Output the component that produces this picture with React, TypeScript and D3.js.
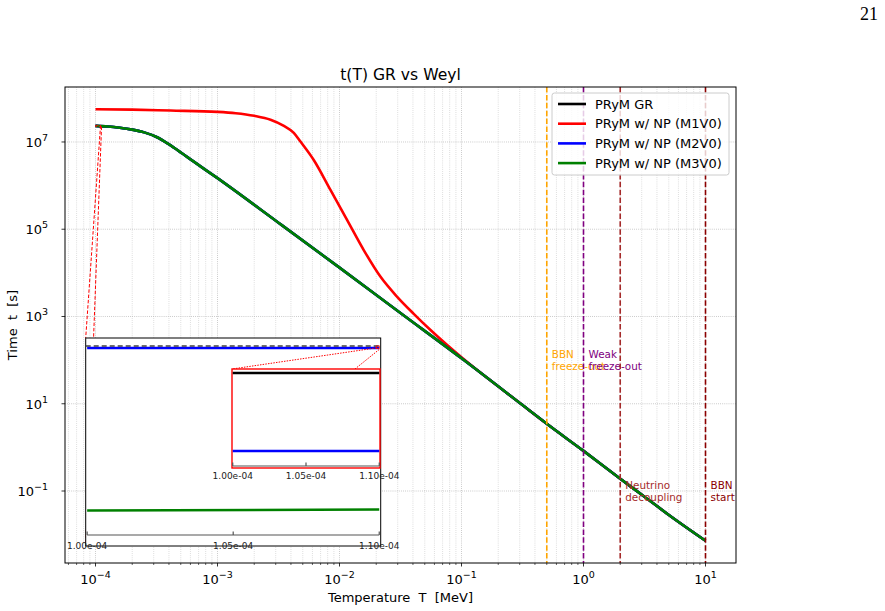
import React from "react";
import * as d3 from "d3";

// main curves (T in MeV, t in s)
const TEMP_GR = [1e-4, 1.26e-4, 1.58e-4, 2.0e-4, 2.51e-4, 3.16e-4, 3.98e-4, 5.01e-4, 6.31e-4, 1e-3, 3.16e-3, 0.01, 0.0316, 0.1, 0.316, 0.5, 1, 2, 3.16, 5.01, 10];
const TIME_GR = [2.34e7, 2.26e7, 2.12e7, 1.92e7, 1.66e7, 1.3e7, 8.9e6, 5.75e6, 3.63e6, 1.48e6, 1.41e5, 1.32e4, 1.2e3, 110, 9.33, 3.47, 0.832, 0.191, 0.0741, 0.0282, 0.00724];

const TEMP_M1 = [1e-4, 2e-4, 4.12e-4, 1e-3, 1.41e-3, 2e-3, 2.72e-3, 3.5e-3, 4.22e-3, 4.75e-3, 6.15e-3, 8.43e-3, 0.01156, 0.0158, 0.0217, 0.0297, 0.0406, 0.0557, 0.0767, 0.1, 0.316, 0.5, 1, 2, 3.16, 5.01, 10];
const TIME_M1 = [5.62e7, 5.5e7, 5.25e7, 4.9e7, 4.57e7, 3.98e7, 3.24e7, 2.34e7, 1.62e7, 1.05e7, 3.86e6, 7.94e5, 1.62e5, 3.33e4, 8.1e3, 2.82e3, 1.15e3, 490, 219, 116, 9.33, 3.47, 0.832, 0.191, 0.0741, 0.0282, 0.00724];

const SERIES_NAMES = ["PRyM GR", "PRyM w/ NP (M1V0)", "PRyM w/ NP (M2V0)", "PRyM w/ NP (M3V0)"];
const SERIES_COLORS = ["#000000", "#ff0000", "#0000ff", "#008000"];

// vertical event markers
const MARKER_T = [0.5, 1, 2, 10];
const MARKER_COLORS = ["#ffa500", "#800080", "#a52a2a", "#8b0000"];
const MARKER_LABELS = [["BBN", "freeze-out"], ["Weak", "freeze-out"], ["Neutrino", "decoupling"], ["BBN", "start"]];
const MARKER_TEXT_t = [100, 100, 0.1, 0.1];

const X_TICKS = [1e-4, 1e-3, 1e-2, 1e-1, 1, 10];
const Y_TICKS = [1e-1, 1e1, 1e3, 1e5, 1e7];

// inset (relative offsets near T = 1e-4)
const INSET_T = [1.0e-4, 1.1e-4];
const INSET_GR = [0, 0];
const INSET_M2 = [-0.0095, -0.0095];
const INSET_M3 = [-0.78, -0.775];
const INSET_TICKS = [1.0e-4, 1.05e-4, 1.1e-4];
const ZOOM_t = [2.25e7, 2.4e7];

const FONT = "DejaVu Sans, sans-serif";

function pow10(v: number) {
  const e = Math.round(Math.log10(v));
  return (
    <>
      <tspan>10</tspan>
      <tspan dy={-6} fontSize={9.5}>{e < 0 ? "\u2212" + Math.abs(e) : String(e)}</tspan>
    </>
  );
}

export default function App() {
  const W = 885, H = 611;
  const m = { left: 65, right: 736, top: 87, bottom: 563 };

  const x = d3.scaleLog().domain([Math.pow(10, -4.25), Math.pow(10, 1.25)]).range([m.left, m.right]);
  const y = d3.scaleLog().domain([Math.pow(10, -2.65), Math.pow(10, 8.26)]).range([m.bottom, m.top]);

  const line = d3.line<[number, number]>().x(d => x(d[0])).y(d => y(d[1])).curve(d3.curveMonotoneX);
  const gr = TEMP_GR.map((T, i) => [T, TIME_GR[i]] as [number, number]);
  const m1 = TEMP_M1.map((T, i) => [T, TIME_M1[i]] as [number, number]);

  // minor ticks
  const minor: number[] = [];
  for (let e = -5; e <= 1; e++) for (let k = 2; k <= 9; k++) {
    const v = k * Math.pow(10, e);
    if (v >= x.domain()[0] && v <= x.domain()[1]) minor.push(v);
  }

  // inset geometry
  const in1 = { l: 85.7, r: 380.7, t: 338, b: 546 };
  const in2 = { l: 232, r: 380, t: 369, b: 468 };
  const ix1 = d3.scaleLinear().domain([0.9995e-4, 1.1005e-4]).range([in1.l, in1.r]);
  const iy1 = d3.scaleLinear().domain([-0.948, 0.038]).range([in1.b, in1.t]);
  const ix2 = d3.scaleLinear().domain([0.9995e-4, 1.1005e-4]).range([in2.l, in2.r]);
  const iy2 = d3.scaleLinear().domain([-0.01157, 0.000487]).range([in2.b, in2.t]);
  const seg = (sx: any, sy: any, ys: number[]) => ({ x1: sx(INSET_T[0]), y1: sy(ys[0]), x2: sx(INSET_T[1]), y2: sy(ys[1]) });

  const zx = x(INSET_T[1]);
  const zTop = y(ZOOM_t[1]);
  const zBot = y(ZOOM_t[0]);
  const rx = ix1(1.099e-4);
  const rTop = iy1(0.000487);
  const rBot = iy1(-0.01157);

  return (
    <svg width={W} height={H} style={{ position: "absolute", left: 0, top: 0, background: "#fff" }} fontFamily={FONT}>
      <text x={878} y={20} textAnchor="end" fontFamily="Liberation Serif, DejaVu Serif, serif" fontSize={18}>21</text>

      {/* grid */}
      {minor.map(v => (
        <line key={"gm" + v} x1={x(v)} x2={x(v)} y1={m.top} y2={m.bottom} stroke="#cccccc" strokeWidth={0.8} strokeDasharray="0.8,1.3" />
      ))}
      {X_TICKS.map(v => (
        <line key={"gx" + v} x1={x(v)} x2={x(v)} y1={m.top} y2={m.bottom} stroke="#b0b0b0" strokeWidth={0.8} strokeDasharray="0.8,1.3" />
      ))}
      {Y_TICKS.map(v => (
        <line key={"gy" + v} x1={m.left} x2={m.right} y1={y(v)} y2={y(v)} stroke="#b0b0b0" strokeWidth={0.8} strokeDasharray="0.8,1.3" />
      ))}

      {/* curves */}
      <path d={line(m1) || ""} fill="none" stroke={SERIES_COLORS[1]} strokeWidth={2.6} />
      <path d={line(gr) || ""} fill="none" stroke={SERIES_COLORS[0]} strokeWidth={2.6} />
      <path d={line(gr) || ""} fill="none" stroke={SERIES_COLORS[2]} strokeWidth={2.6} />
      <path d={line(gr) || ""} fill="none" stroke={SERIES_COLORS[3]} strokeWidth={2.6} />

      {/* event markers */}
      {MARKER_T.map((T, i) => (
        <g key={"mk" + T}>
          <line x1={x(T)} x2={x(T)} y1={m.top} y2={m.bottom} stroke={MARKER_COLORS[i]} strokeWidth={1.6} strokeDasharray="5.5,2.4" />
          <text x={x(T * 1.1)} y={y(MARKER_TEXT_t[i])} fill={MARKER_COLORS[i]} fontSize={10.4}>
            <tspan x={x(T * 1.1)} dy={-2.5}>{MARKER_LABELS[i][0]}</tspan>
            <tspan x={x(T * 1.1)} dy={12}>{MARKER_LABELS[i][1]}</tspan>
          </text>
        </g>
      ))}

      {/* inset connectors (main) */}
      <rect x={x(INSET_T[0])} y={zTop} width={zx - x(INSET_T[0])} height={zBot - zTop} fill="none" stroke="#ff0000" strokeWidth={0.8} strokeDasharray="3,2" />
      <line x1={zx} y1={zTop} x2={in1.l} y2={in1.t} stroke="#ff0000" strokeWidth={1} strokeDasharray="3.5,1.8" />
      <line x1={zx + 1} y1={zBot} x2={in1.l} y2={in1.b} stroke="#ff0000" strokeWidth={1} strokeDasharray="3.5,1.8" />

      {/* inset 1 */}
      <rect x={in1.l} y={in1.t} width={in1.r - in1.l} height={in1.b - in1.t} fill="#fff" stroke="#000" strokeWidth={1} />
      <line {...seg(ix1, iy1, INSET_M2)} stroke={SERIES_COLORS[2]} strokeWidth={2.6} />
      <line x1={in1.l} x2={in1.r} y1={iy1(INSET_GR[0])} y2={iy1(INSET_GR[1])} stroke="#404040" strokeWidth={1.5} strokeDasharray="5,3" />
      <line {...seg(ix1, iy1, INSET_M3)} stroke={SERIES_COLORS[3]} strokeWidth={2.6} />
      <line x1={ix1(INSET_TICKS[0])} x2={ix1(INSET_TICKS[2])} y1={535} y2={535} stroke="#555" strokeWidth={1.2} />
      {INSET_TICKS.map(v => (
        <g key={"it1" + v}>
          <line x1={ix1(v)} x2={ix1(v)} y1={531.5} y2={535} stroke="#555" strokeWidth={1.2} />
          <text x={ix1(v)} y={548.5} textAnchor="middle" fontSize={9} fill="#222">{v.toExponential(2).replace("e-", "e-0")}</text>
        </g>
      ))}

      {/* inset 1 connectors to inset 2 */}
      <rect x={rx} y={rTop} width={ix1(INSET_T[1]) - rx} height={rBot - rTop} fill="none" stroke="#ff0000" strokeWidth={0.8} />
      <line x1={rx} y1={rTop + 2} x2={in2.l} y2={in2.t} stroke="#ff0000" strokeWidth={1} strokeDasharray="1.5,1.2" />
      <line x1={ix1(INSET_T[1])} y1={rBot + 1} x2={in2.l} y2={in2.b} stroke="#ff0000" strokeWidth={1} strokeDasharray="1.5,1.2" />

      {/* inset 2 */}
      <rect x={in2.l} y={in2.t} width={in2.r - in2.l} height={in2.b - in2.t} fill="#fff" stroke="#ff0000" strokeWidth={1.4} />
      <line x1={in2.l + 2} x2={in2.r - 2} y1={iy2(INSET_GR[0])} y2={iy2(INSET_GR[1])} stroke="#000" strokeWidth={1.5} strokeDasharray="3,3" />
      <line {...seg(ix2, iy2, INSET_GR)} stroke={SERIES_COLORS[0]} strokeWidth={2.6} />
      <line {...seg(ix2, iy2, INSET_M2)} stroke={SERIES_COLORS[2]} strokeWidth={2.6} />
      <line x1={ix2(INSET_TICKS[0])} x2={ix2(INSET_TICKS[2])} y1={466} y2={466} stroke="#555" strokeWidth={1.2} />
      {INSET_TICKS.map(v => (
        <g key={"it2" + v}>
          <line x1={ix2(v)} x2={ix2(v)} y1={462.5} y2={466} stroke="#555" strokeWidth={1.2} />
          <text x={ix2(v)} y={479} textAnchor="middle" fontSize={9} fill="#222">{v.toExponential(2).replace("e-", "e-0")}</text>
        </g>
      ))}

      {/* axes frame */}
      <rect x={m.left} y={m.top} width={m.right - m.left} height={m.bottom - m.top} fill="none" stroke="#000" strokeWidth={1} />
      {minor.map(v => (
        <line key={"tm" + v} x1={x(v)} x2={x(v)} y1={m.bottom} y2={m.bottom + 2} stroke="#000" strokeWidth={0.6} />
      ))}
      {X_TICKS.map(v => (
        <g key={"tx" + v}>
          <line x1={x(v)} x2={x(v)} y1={m.bottom} y2={m.bottom + 3.5} stroke="#000" strokeWidth={0.8} />
          <text x={x(v)} y={m.bottom + 21} textAnchor="middle" fontSize={13}>{pow10(v)}</text>
        </g>
      ))}
      {Y_TICKS.map(v => (
        <g key={"ty" + v}>
          <line x1={m.left - 3.5} x2={m.left} y1={y(v)} y2={y(v)} stroke="#000" strokeWidth={0.8} />
          <text x={m.left - 17} y={y(v) + 5} textAnchor="end" fontSize={13}>{pow10(v)}</text>
        </g>
      ))}

      {/* labels */}
      <text x={(m.left + m.right) / 2} y={80} textAnchor="middle" fontSize={15.6}>t(T) GR vs Weyl</text>
      <text x={(m.left + m.right) / 2} y={602} textAnchor="middle" fontSize={13} style={{ whiteSpace: "pre" }}>Temperature  T  [MeV]</text>
      <text transform={`translate(17,${(m.top + m.bottom) / 2}) rotate(-90)`} textAnchor="middle" fontSize={13} style={{ whiteSpace: "pre" }}>Time  t  [s]</text>

      {/* legend */}
      <rect x={552} y={93} width={177} height={82} rx={2.5} fill="#fff" fillOpacity={0.8} stroke="#cccccc" strokeWidth={1} />
      {SERIES_NAMES.map((name, i) => (
        <g key={name}>
          <line x1={558} x2={586} y1={104 + i * 19.7} y2={104 + i * 19.7} stroke={SERIES_COLORS[i]} strokeWidth={2.6} />
          <text x={595} y={104 + i * 19.7 + 4.6} fontSize={13}>{name}</text>
        </g>
      ))}
    </svg>
  );
}
